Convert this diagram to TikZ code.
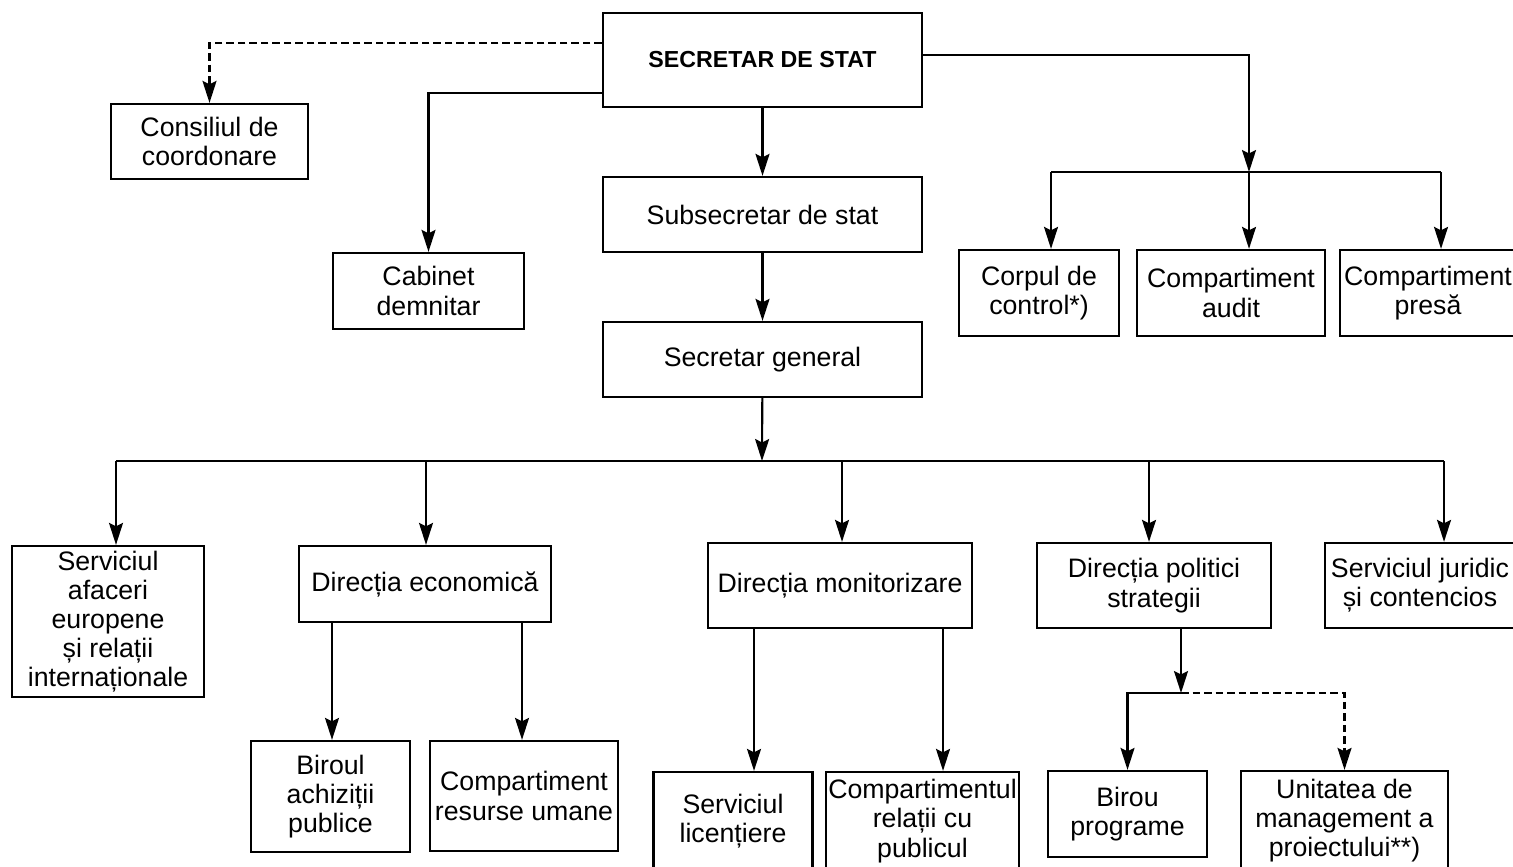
\documentclass[tikz,border=0pt]{standalone}
\usepackage{fontspec}
\setmainfont{Liberation Sans}
\usetikzlibrary{arrows.meta}

\begin{document}
\begin{tikzpicture}[x=0.02cm,y=-0.02cm,font=\fontsize{15.2}{16.6}\selectfont,
    box/.style={draw,line width=1.3pt,align=center,inner sep=0pt},
    sz/.style 2 args={minimum width=#1*0.02cm,minimum height=#2*0.02cm},
    ln/.style={line width=1.2pt},
    arr/.style={line width=1.2pt,-{Stealth[length=4.4mm,width=2.8mm,inset=0.7mm]}},
    dsh/.style={dash pattern=on 1.5mm off 0.8mm}]
      \useasboundingbox (0,0) rectangle (1513,866);
      \clip (0,0) rectangle (1513,866);
      % top part
      \node[box,sz={319}{94},font=\fontsize{13.2}{15}\selectfont\bfseries] (ss) at (762.5,60) {SECRETAR DE STAT};
      \node[box,sz={197}{75}] (cc) at (209.5,141.5) {Consiliul de\\coordonare};
      \node[box,sz={191}{76}] (cab) at (428.5,291) {Cabinet\\demnitar};
      \node[box,sz={319}{75}] (sub) at (762.5,214.5) {Subsecretar de stat};
      \node[box,sz={319}{75}] (sg) at (762.5,359.5) {Secretar general};
      \node[box,sz={160}{86}] (corp) at (1039,293) {Corpul de\\control*)};
      \node[box,sz={188}{86}] (audit) at (1231,293) {Compartiment\\audit};
      \node[box,sz={176}{86}] (presa) at (1428,293) {Compartiment\\presă};
      % second level
      \node[box,sz={192}{151}] (afaceri) at (108,621.5) {Serviciul\\afaceri\\europene\\și relații\\internaționale};
      \node[box,sz={252}{76}] (econ) at (425,584) {Direcția economică};
      \node[box,sz={264}{85}] (monit) at (840,585.5) {Direcția monitorizare};
      \node[box,sz={234}{85}] (polit) at (1154,585.5) {Direcția politici\\strategii};
      \node[box,sz={190}{85}] (jurid) at (1420,585.5) {Serviciul juridic\\și contencios};
      % third level
      \node[box,sz={159}{111}] (achiz) at (330.5,796.5) {Biroul\\achiziții\\publice};
      \node[box,sz={188}{110}] (resurse) at (524,796) {Compartiment\\resurse umane};
      \node[box,sz={159}{98}] (lic) at (733,821) {Serviciul\\licențiere};
      \node[box,sz={193}{98}] (rel) at (922.5,821) {Compartimentul\\relații cu\\publicul};
      \node[box,sz={159}{86}] (birou) at (1127.5,814) {Birou\\programe};
      \node[box,sz={207}{99}] (unit) at (1344.5,820.5) {Unitatea de\\management a\\proiectului**)};

      \draw[arr,dsh] ([yshift=0.34cm]ss.west) -| (cc.north);
      \draw[arr] ([yshift=-0.66cm]ss.west) -| (cab.north);
      \draw[arr] (ss) -- (sub);
      \draw[arr] (sub) -- (sg);

      \coordinate (jr) at (1249,172);
      \draw[arr] ([yshift=0.1cm]ss.east) -| (jr);
      \draw[ln] (1051,172) -- (1441,172);
      \foreach \x/\n in {1051/corp,1249/audit,1441/presa} {
        \coordinate (t) at (\x,172);
        \draw[arr] (t) -- (t |- \n.north);
      }

      \coordinate (jm) at (762,461);
      \draw[arr] (sg) -- (jm);
      \draw[ln] (116,461) -- (1444,461);
      \foreach \x/\n in {116/afaceri,426/econ,842/monit,1149/polit,1444/jurid} {
        \coordinate (t) at (\x,461);
        \draw[arr] (t) -- (t |- \n.north);
      }

      \foreach \x/\a/\b in {332/econ/achiz,522/econ/resurse,754/monit/lic,943/monit/rel} {
        \coordinate (t) at (\x,0);
        \draw[arr] (t |- \a.south) -- (t |- \b.north);
      }

      \coordinate (jp) at (1181,693);
      \draw[arr] (jp |- polit.south) -- (jp);
      \draw[arr] (jp) -| (birou.north);
      \draw[arr,dsh] (jp) -| (unit.north);
    \end{tikzpicture}
\end{document}
